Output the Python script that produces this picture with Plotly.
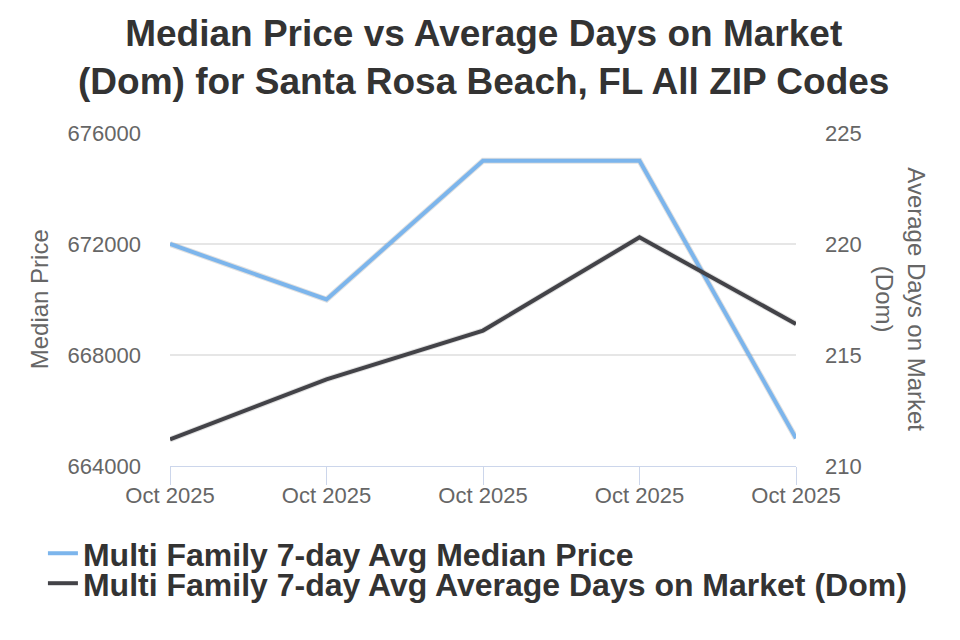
import plotly.graph_objects as go

x_labels = ["Oct 2025", "Oct 2025", "Oct 2025", "Oct 2025", "Oct 2025"]
median_price = [672000, 670000, 675000, 675000, 665000]
avg_dom = [211.2, 213.9, 216.1, 220.3, 216.4]

price_name = "Multi Family 7-day Avg Median Price"
dom_name = "Multi Family 7-day Avg Average Days on Market (Dom)"

xs = list(range(len(x_labels)))

fig = go.Figure()
# subtle shadows
fig.add_trace(go.Scatter(x=xs, y=median_price, mode="lines", yaxis="y",
                         line=dict(color="rgba(0,0,0,0.12)", width=6),
                         showlegend=False, hoverinfo="skip"))
fig.add_trace(go.Scatter(x=xs, y=avg_dom, mode="lines", yaxis="y2",
                         line=dict(color="rgba(0,0,0,0.12)", width=6),
                         showlegend=False, hoverinfo="skip"))
fig.add_trace(go.Scatter(x=xs, y=median_price, mode="lines", name=price_name,
                         line=dict(color="#7cb5ec", width=4), yaxis="y", legend="legend"))
fig.add_trace(go.Scatter(x=xs, y=avg_dom, mode="lines", name=dom_name,
                         line=dict(color="#434348", width=4), yaxis="y2", legend="legend2"))

leg_font = dict(size=32, color="#333333", family="Liberation Sans, Arial", weight="bold")

fig.update_layout(
    width=960, height=640,
    margin=dict(l=170, r=164, t=133, b=174, autoexpand=False),
    paper_bgcolor="white", plot_bgcolor="white",
    font=dict(family="Liberation Sans, Arial, sans-serif", color="#666666"),
    xaxis=dict(tickmode="array", tickvals=xs, ticktext=x_labels,
               range=[0, len(xs) - 1], showgrid=False, tickangle=0,
               showline=True, linecolor="#ccd6eb", linewidth=1,
               ticks="outside", ticklen=18, tickcolor="#ccd6eb",
               tickfont=dict(size=22, color="#666666"), zeroline=False,
               ticklabelstandoff=-8),
    yaxis=dict(range=[664000, 676000], tickvals=[664000, 668000, 672000, 676000],
               ticktext=["664000", "668000", "672000", "676000"],
               showgrid=True, gridcolor="#e6e6e6", gridwidth=2, zeroline=False,
               tickfont=dict(size=22, color="#666666"), ticks="", ticklabelstandoff=28),
    yaxis2=dict(range=[210, 225], tickvals=[210, 215, 220, 225],
                overlaying="y", side="right", showgrid=False, zeroline=False,
                tickfont=dict(size=22, color="#666666"), ticklabelstandoff=28),
    legend=dict(orientation="v", x=-0.203, xanchor="left", y=-0.18, yanchor="top",
                font=leg_font, itemwidth=30, bgcolor="rgba(0,0,0,0)"),
    legend2=dict(orientation="v", x=-0.203, xanchor="left", y=-0.27, yanchor="top",
                 font=leg_font, itemwidth=30, bgcolor="rgba(0,0,0,0)"),
    showlegend=True,
)

fig.add_annotation(text="<b>Median Price vs Average Days on Market<br>(Dom) for Santa Rosa Beach, FL All ZIP Codes</b>",
                   xref="paper", yref="paper", x=0.5, y=1.0 + (133 - 57) / 333,
                   xanchor="center", yanchor="middle", showarrow=False,
                   font=dict(size=37, color="#333333"))
fig.add_annotation(text="Median Price", textangle=-90, xref="paper", yref="paper",
                   x=-0.208, y=0.5, xanchor="center", yanchor="middle", showarrow=False,
                   font=dict(size=24, color="#666666"))
fig.add_annotation(text="Average Days on Market<br>(Dom)", textangle=90, xref="paper", yref="paper",
                   x=1.168, y=0.5, xanchor="center", yanchor="middle", showarrow=False,
                   font=dict(size=24, color="#666666"))

fig.write_html("out.html")
